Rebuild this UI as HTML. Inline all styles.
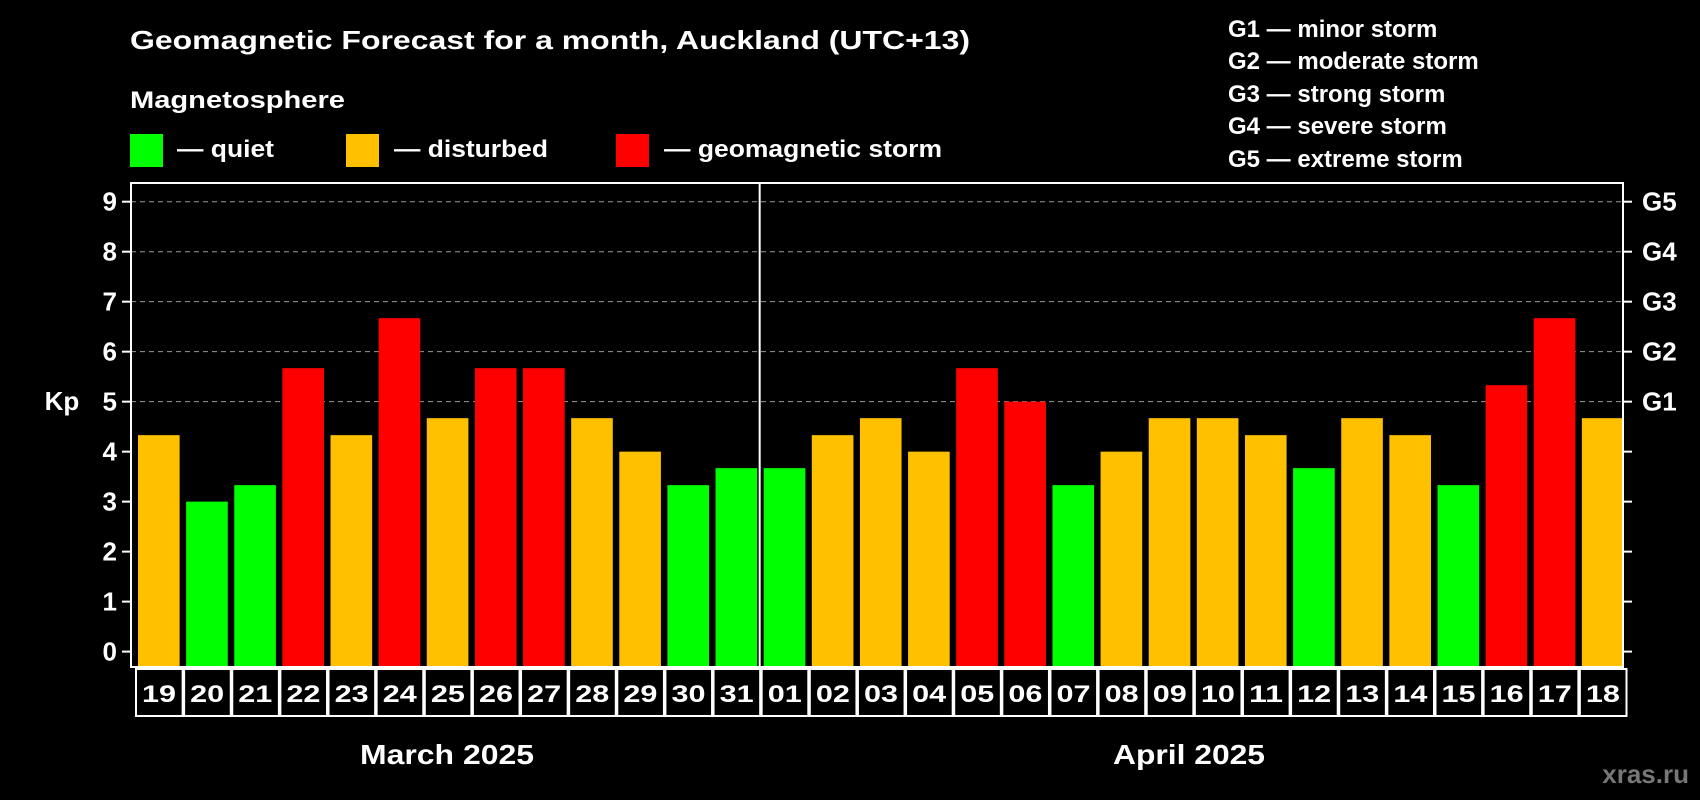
<!DOCTYPE html>
<html><head><meta charset="utf-8"><style>
html,body{margin:0;padding:0;background:#000;}
svg{display:block;font-family:"Liberation Sans",Arial,sans-serif;font-weight:bold;}
</style></head><body>
<svg id="chart" width="1700" height="800" viewBox="0 0 1700 800">
<rect x="0" y="0" width="1700" height="800" fill="#000"/>
<text x="130" y="49" font-size="26" fill="#fff" textLength="840" lengthAdjust="spacingAndGlyphs">Geomagnetic Forecast for a month, Auckland (UTC+13)</text>
<text x="130" y="108" font-size="24" fill="#fff" textLength="215" lengthAdjust="spacingAndGlyphs">Magnetosphere</text>
<g><rect x="130" y="134" width="33" height="33" fill="#00ff00"/><text x="177" y="157" font-size="24" fill="#fff" textLength="97" lengthAdjust="spacingAndGlyphs">— quiet</text></g>
<g><rect x="346" y="134" width="33" height="33" fill="#ffc000"/><text x="394" y="157" font-size="24" fill="#fff" textLength="154" lengthAdjust="spacingAndGlyphs">— disturbed</text></g>
<g><rect x="616" y="134" width="33" height="33" fill="#ff0000"/><text x="664" y="157" font-size="24" fill="#fff" textLength="278" lengthAdjust="spacingAndGlyphs">— geomagnetic storm</text></g>
<g font-size="24" fill="#fff">
<text x="1228" y="37">G1 — minor storm</text>
<text x="1228" y="69">G2 — moderate storm</text>
<text x="1228" y="102">G3 — strong storm</text>
<text x="1228" y="134">G4 — severe storm</text>
<text x="1228" y="167">G5 — extreme storm</text>
</g>
<g id="plot"></g>
<text x="62" y="410" font-size="26" fill="#fff" text-anchor="middle">Kp</text>
<text x="447" y="764" font-size="28" fill="#fff" text-anchor="middle" textLength="174" lengthAdjust="spacingAndGlyphs">March 2025</text>
<text x="1189" y="764" font-size="28" fill="#fff" text-anchor="middle" textLength="152" lengthAdjust="spacingAndGlyphs">April 2025</text>
<text x="1689" y="783" font-size="26" fill="#777" text-anchor="end">xras.ru</text>
</svg>
<script>
const days = ["19","20","21","22","23","24","25","26","27","28","29","30","31","01","02","03","04","05","06","07","08","09","10","11","12","13","14","15","16","17","18"];
const kpValues = [4.33,3,3.33,5.67,4.33,6.67,4.67,5.67,5.67,4.67,4,3.33,3.67,3.67,4.33,4.67,4,5.67,5,3.33,4,4.67,4.67,4.33,3.67,4.67,4.33,3.33,5.33,6.67,4.67];
const yTicks = [0,1,2,3,4,5,6,7,8,9];
const gLabels = ["G1","G2","G3","G4","G5"];
const gLevels = [5,6,7,8,9];
const monthSplitIndex = 13;

const NS="http://www.w3.org/2000/svg";
const L=131,R=1623,T=183,B=667,Y0=651.6,Y9=201.7;
const y=v=>Y0-(v/9)*(Y0-Y9);
const step=(R-L)/days.length;
const x=i=>L+i*step;
const g=document.getElementById('plot');
function mk(tag,attrs){const e=document.createElementNS(NS,tag);for(const k in attrs)e.setAttribute(k,attrs[k]);g.appendChild(e);return e;}
function color(v){return v>=5?"#ff0000":(v>=4?"#ffc000":"#00ff00");}

yTicks.forEach(t=>{
  if(t>=5){const gl=mk('line',{x1:L,x2:R,y1:y(t),y2:y(t),stroke:'#999','stroke-width':1,'stroke-dasharray':'5,4'});
  
  }
  const tk=mk('line',{x1:L-9,x2:L,y1:y(t),y2:y(t),stroke:'#fff','stroke-width':2});
  
  
  const tk2=mk('line',{x1:R,x2:R+9,y1:y(t),y2:y(t),stroke:'#fff','stroke-width':2});
  
  
  const lb=mk('text',{x:L-14,y:y(t)+9,'font-size':26,fill:'#fff','text-anchor':'end'});
  lb.textContent=t;
  
  
});
gLabels.forEach((s,i)=>{
  const lb=mk('text',{x:R+19,y:y(gLevels[i])+9,'font-size':26,fill:'#fff'});
  lb.textContent=s;
  
  
});
kpValues.forEach((v,i)=>{
  const b=mk('rect',{x:x(i)+7,y:y(v),width:step-6.5,height:B-y(v),fill:color(v)});
  
  
  const bx=mk('rect',{x:x(i)+5,y:B+2,width:step-1.5,height:47,fill:'#000',stroke:'#fff','stroke-width':2});
  
  
  const t=mk('text',{x:x(i)+4+step/2,y:B+35,'font-size':24,fill:'#fff','text-anchor':'middle',textLength:34,lengthAdjust:'spacingAndGlyphs'});
  t.textContent=days[i];
  
  
});
const dv=mk('line',{x1:x(monthSplitIndex)+3,x2:x(monthSplitIndex)+3,y1:T,y2:B,stroke:'#fff','stroke-width':2});


const fr=mk('rect',{x:L,y:T,width:R-L,height:B-T,fill:'none',stroke:'#fff','stroke-width':2});


</script>
</body></html>
